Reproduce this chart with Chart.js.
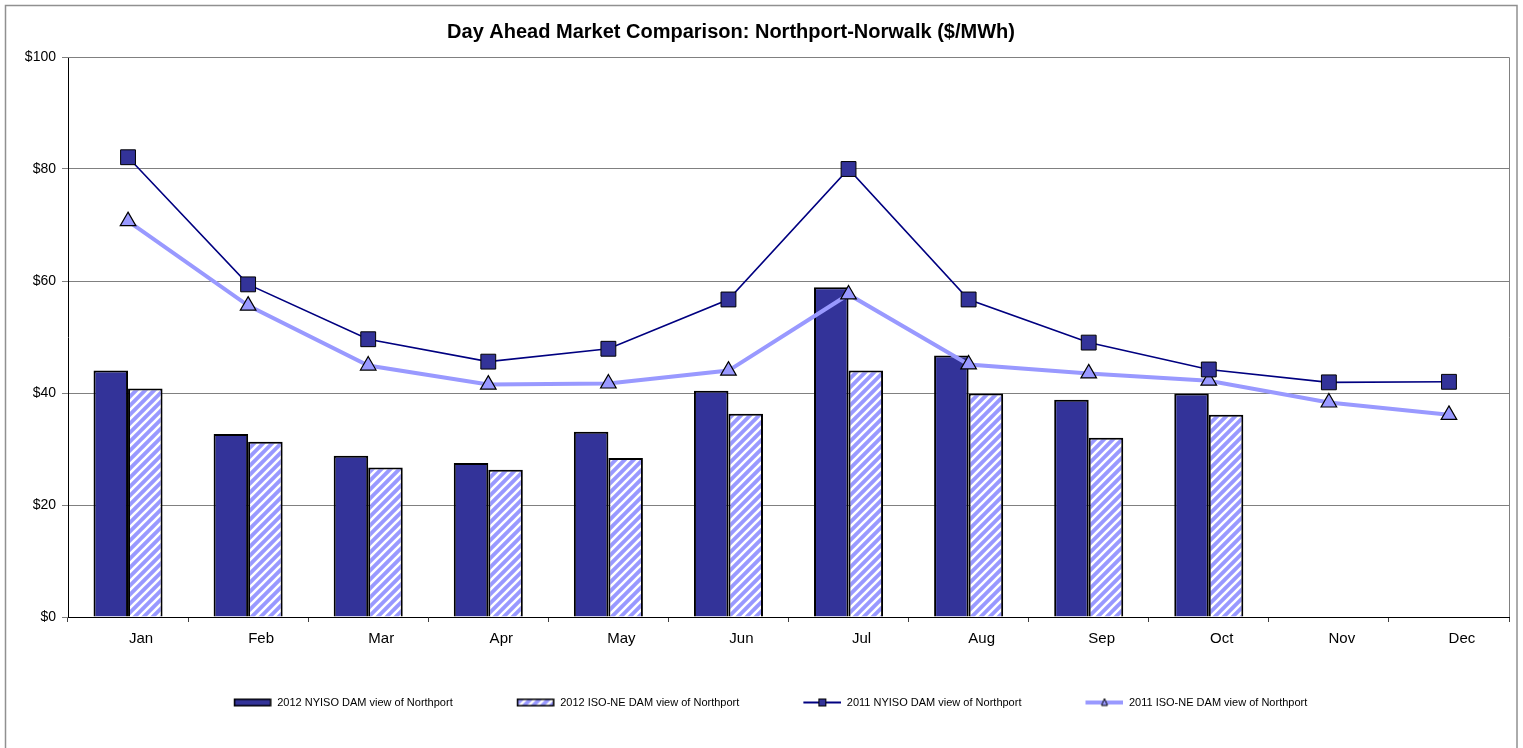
<!DOCTYPE html>
<html>
<head>
<meta charset="utf-8">
<script src="https://cdn.jsdelivr.net/npm/chart.js@4"></script>
<style>
  html, body { margin: 0; padding: 0; background: #fff; }
  #wrap { position: relative; width: 1523px; height: 748px; }
</style>
</head>
<body>
<div id="wrap"><canvas id="damChart"></canvas></div>
<script>
// Day Ahead Market vergelijking – Northport-Norwalk

const months = ["Jan", "Feb", "Mar", "Apr", "May", "Jun", "Jul", "Aug", "Sep", "Oct", "Nov", "Dec"];
const nyiso2012 = [44.0, 32.7, 28.8, 27.5, 33.1, 40.4, 58.9, 46.7, 38.8, 39.9, null, null];
const isone2012 = [40.8, 31.3, 26.7, 26.3, 28.4, 36.3, 44.0, 39.9, 32.0, 36.1, null, null];
const nyiso2011 = [82.1, 59.4, 49.6, 45.6, 47.9, 56.7, 80.0, 56.7, 49.0, 44.2, 41.9, 42.0];
const isone2011 = [70.7, 55.6, 44.9, 41.5, 41.7, 44.0, 57.6, 45.1, 43.5, 42.2, 38.3, 36.1];
const yTicks = [0, 20, 40, 60, 80, 100];
const seriesLabels = [
  "2012 NYISO DAM view of Northport",
  "2012 ISO-NE DAM view of Northport",
  "2011 NYISO DAM view of Northport",
  "2011 ISO-NE DAM view of Northport"
];
const chartTitle = "Day Ahead Market Comparison: Northport-Norwalk ($/MWh)";

const DARK = "#333399";
const NAVY = "#000080";
const LIGHT = "#9999FF";
const FONT = "Arial, 'Liberation Sans', sans-serif";

// gestreept patroon voor de ISO-NE staven
function makeHatch() {
  const c = document.createElement("canvas");
  c.width = 9; c.height = 9;
  const g = c.getContext("2d");
  g.fillStyle = LIGHT;
  g.fillRect(0, 0, 9, 9);
  g.strokeStyle = "#fff";
  g.lineWidth = 2.6;
  g.beginPath();
  g.moveTo(-4.5, 4.5); g.lineTo(4.5, -4.5);
  g.moveTo(0, 9); g.lineTo(9, 0);
  g.moveTo(4.5, 13.5); g.lineTo(13.5, 4.5);
  g.stroke();
  return g.createPattern(c, "repeat");
}
const hatch = makeHatch();

// legenda-icoontjes
function makeIcon(kind) {
  const c = document.createElement("canvas");
  c.width = 62; c.height = 12;
  const g = c.getContext("2d");
  if (kind === "bar" || kind === "hatch") {
    g.fillStyle = kind === "bar" ? DARK : hatch;
    g.fillRect(24, 3, 37, 6);
    g.strokeStyle = "#000";
    g.lineWidth = 1.5;
    g.strokeRect(24.75, 2.75, 36, 6.5);
  } else if (kind === "line") {
    g.strokeStyle = NAVY;
    g.lineWidth = 2;
    g.beginPath(); g.moveTo(24, 6); g.lineTo(62, 6); g.stroke();
    g.fillStyle = DARK;
    g.fillRect(39.5, 2.5, 7, 7);
    g.strokeStyle = "#000"; g.lineWidth = 1;
    g.strokeRect(39.5, 2.5, 7, 7);
  } else {
    g.strokeStyle = LIGHT;
    g.lineWidth = 4;
    g.beginPath(); g.moveTo(24, 6); g.lineTo(62, 6); g.stroke();
    g.fillStyle = LIGHT;
    g.strokeStyle = "#000"; g.lineWidth = 1;
    g.beginPath(); g.moveTo(43, 2); g.lineTo(46, 9); g.lineTo(40, 9); g.closePath();
    g.fill(); g.stroke();
  }
  return c;
}
const icons = [makeIcon("bar"), makeIcon("hatch"), makeIcon("line"), makeIcon("tri")];

// titel, kader en plotrand
const framePlugin = {
  id: "frame",
  afterDraw(chart) {
    const ctx = chart.ctx;
    const a = chart.chartArea;
    ctx.save();
    ctx.strokeStyle = "#808080";
    ctx.lineWidth = 1;
    ctx.beginPath();
    ctx.moveTo(a.left, a.top + 0.5); ctx.lineTo(a.right + 0.5, a.top + 0.5); ctx.lineTo(a.right + 0.5, a.bottom);
    ctx.stroke();
    ctx.strokeStyle = "#909090";
    ctx.lineWidth = 1.5;
    ctx.strokeRect(5.5, 5.5, 1511.5, 760);
    ctx.fillStyle = "#000";
    ctx.font = "bold 20px " + FONT;
    ctx.textAlign = "center";
    ctx.textBaseline = "middle";
    ctx.fillText(chartTitle, 731, 32);
    ctx.restore();
  }
};

const ctx = document.getElementById("damChart").getContext("2d");
new Chart(ctx, {
  data: {
    labels: months,
    datasets: [
      {
        type: "bar", label: seriesLabels[0], data: nyiso2012, order: 1,
        backgroundColor: DARK, borderColor: "#000", borderWidth: 2,
        categoryPercentage: 0.575, barPercentage: 1.0
      },
      {
        type: "bar", label: seriesLabels[1], data: isone2012, order: 1,
        backgroundColor: hatch, borderColor: "#000", borderWidth: 2,
        categoryPercentage: 0.575, barPercentage: 1.0
      },
      {
        type: "line", label: seriesLabels[2], data: nyiso2011, order: 0,
        borderColor: NAVY, borderWidth: 1.6, tension: 0,
        pointStyle: "rect", pointRadius: 10.5, pointBackgroundColor: DARK,
        pointBorderColor: "#000", pointBorderWidth: 1
      },
      {
        type: "line", label: seriesLabels[3], data: isone2011, order: 0,
        borderColor: LIGHT, borderWidth: 4, tension: 0,
        pointStyle: "triangle", pointRadius: 9, pointBackgroundColor: LIGHT,
        pointBorderColor: "#000", pointBorderWidth: 1.2
      }
    ]
  },
  options: {
    responsive: true,
    maintainAspectRatio: false,
    animation: false,
    layout: { padding: { left: 8, right: 14, top: 57, bottom: 30 } },
    plugins: {
      title: { display: false },
      tooltip: { enabled: false },
      legend: {
        position: "bottom",
        labels: {
          usePointStyle: true,
          pointStyleWidth: 62,
          padding: 40,
          color: "#000",
          font: { family: FONT, size: 11 },
          sort: (a, b) => a.datasetIndex - b.datasetIndex,
          generateLabels: (chart) => {
            const items = Chart.defaults.plugins.legend.labels.generateLabels(chart);
            items.forEach((it) => { it.pointStyle = icons[it.datasetIndex]; });
            return items;
          }
        }
      }
    },
    scales: {
      x: {
        offset: true,
        grid: { display: true, drawOnChartArea: false, offset: true, tickLength: 5, color: "#404040" },
        border: { color: "#000", width: 1 },
        ticks: { color: "#000", font: { family: FONT, size: 15 }, padding: 8, labelOffset: 13 },
        afterFit: (s) => { s.height = 40; }
      },
      y: {
        min: 0, max: 100,
        afterBuildTicks: (s) => { s.ticks = yTicks.map(v => ({ value: v })); },
        grid: { color: "#808080", tickLength: 6, drawTicks: true },
        border: { color: "#000", width: 1 },
        ticks: {
          color: "#000", font: { family: FONT, size: 14 }, padding: 6,
          callback: (v) => "$" + v
        },
        afterFit: (s) => { s.width = 60; }
      }
    }
  },
  plugins: [framePlugin]
});
</script>
</body>
</html>
